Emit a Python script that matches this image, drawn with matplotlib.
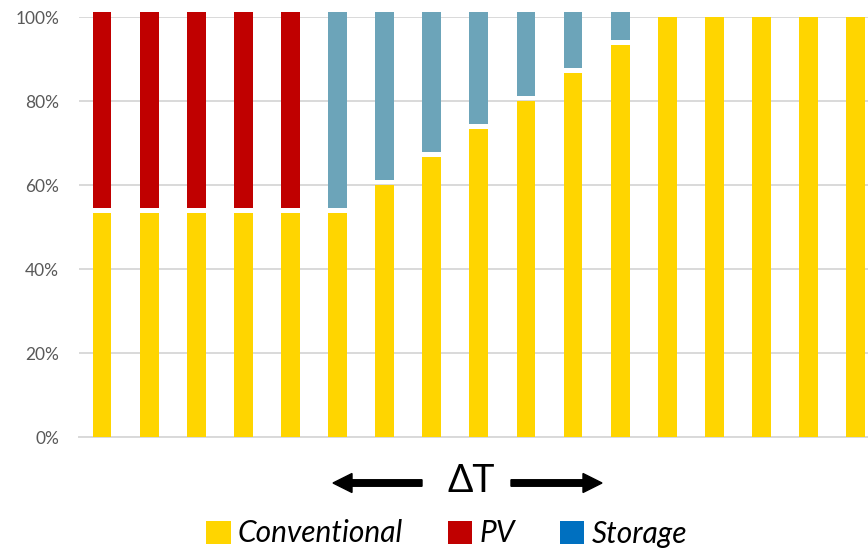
import matplotlib
matplotlib.use("Agg")
import matplotlib.pyplot as plt
from matplotlib.patches import Patch, FancyArrow
from matplotlib.transforms import IdentityTransform
from matplotlib.ticker import FuncFormatter

plt.rcParams['font.family'] = ['Lato', 'DejaVu Sans']

# Share of each generation source per case (percent)
conventional = [53.3, 53.3, 53.3, 53.3, 53.3, 53.3, 60.0, 66.7, 73.3, 80.0,
                86.7, 93.3, 100.0, 100.0, 100.0, 100.0, 100.0]
pv = [46.7, 46.7, 46.7, 46.7, 46.7, 0, 0, 0, 0, 0, 0, 0, 0, 0, 0, 0, 0]
storage = [0, 0, 0, 0, 0, 46.7, 40.0, 33.3, 26.7, 20.0, 13.3, 6.7,
           0, 0, 0, 0, 0]
y_ticks = [0, 20, 40, 60, 80, 100]
series_names = ["Conventional", "PV", "Storage"]

C_CONV = "#FFD500"
C_PV = "#C00000"
C_STORAGE_BAR = "#6CA4B9"
C_STORAGE_KEY = "#0070C0"
GRID = "#D9D9D9"
SEG_GAP = 1.2   # white separation between stacked segments
BAR_W = 0.40

W, H = 868, 549
fig = plt.figure(figsize=(W / 100, H / 100), dpi=100)
ax = fig.add_axes([78.5 / W, 112 / H, 800.7 / W, 420 / H])

x = list(range(len(conventional)))
ax.bar(x, conventional, width=BAR_W, color=C_CONV, zorder=3, clip_on=False)
pv_bottom = [c + SEG_GAP if p > 0 else 0 for c, p in zip(conventional, pv)]
ax.bar(x, pv, width=BAR_W, bottom=pv_bottom, color=C_PV, zorder=3,
       clip_on=False)
st_bottom = [c + SEG_GAP if s > 0 else 0 for c, s in zip(conventional, storage)]
ax.bar(x, storage, width=BAR_W, bottom=st_bottom, color=C_STORAGE_BAR,
       zorder=3, clip_on=False)

ax.set_xlim(-0.5, len(conventional) - 0.5)
ax.set_ylim(0, 100)
ax.set_yticks(y_ticks)
ax.yaxis.set_major_formatter(FuncFormatter(lambda v, _: f"{v:.0f}%"))
ax.set_xticks([])
ax.tick_params(axis='y', length=0, pad=14, labelsize=12.5, labelcolor="#595959")
ax.grid(axis='y', color=GRID, linewidth=1.4, zorder=0)
for s in ("left", "right", "top"):
    ax.spines[s].set_visible(False)
ax.spines["bottom"].set_color(GRID)
ax.spines["bottom"].set_linewidth(1.4)
ax.spines["bottom"].set_zorder(1)

# Direction of the temperature shift (pixel coordinates from bottom-left)
ARROW_Y = 66
arrow_kw = dict(width=6.5, head_width=19, head_length=19,
                length_includes_head=True, color="black",
                transform=IdentityTransform())
fig.add_artist(FancyArrow(422, ARROW_Y, 333 - 422, 0, **arrow_kw))
fig.add_artist(FancyArrow(511, ARROW_Y, 602 - 511, 0, **arrow_kw))
fig.text(471 / W, 57 / H, "ΔT", ha="center", va="baseline", fontsize=27,
         color="black")

handles = [Patch(facecolor=C_CONV), Patch(facecolor=C_PV),
           Patch(facecolor=C_STORAGE_KEY)]
fig.legend(handles, series_names, loc="center",
           bbox_to_anchor=(446.5 / W, 15.5 / H),
           ncol=3, frameon=False, prop=dict(size=21.5, style="italic"),
           handlelength=0.82, handleheight=0.82, handletextpad=0.24,
           columnspacing=1.5, borderpad=0, borderaxespad=0)

fig.savefig("out.png", dpi=100)
